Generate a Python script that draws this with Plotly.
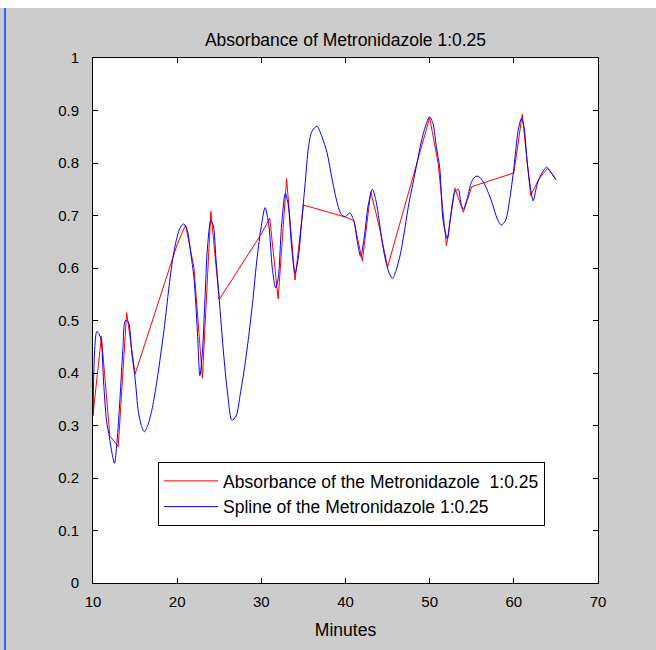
import plotly.graph_objects as go

# Measured absorbance (red, piecewise linear)
abs_minutes = [10, 11, 12, 13, 14, 15,
               20, 21, 22, 23, 24, 25,
               30, 31, 32, 33, 34, 35,
               40, 41, 42, 43, 44, 45,
               50, 51, 52, 53, 54, 55,
               60, 61, 62, 63, 64, 65]
abs_values = [0.320, 0.470, 0.280, 0.260, 0.515, 0.398,
              0.645, 0.682, 0.600, 0.390, 0.708, 0.540,
              0.665, 0.695, 0.541, 0.770, 0.577, 0.720,
              0.697, 0.690, 0.613, 0.745, 0.680, 0.602,
              0.886, 0.800, 0.642, 0.752, 0.706, 0.755,
              0.781, 0.893, 0.738, 0.770, 0.790, 0.770]

# Spline curve (blue)
spline_minutes = [10.0, 10.2, 10.45, 10.7, 10.97, 11.25, 11.6, 11.95, 12.25, 12.55,
                  12.85, 13.2, 13.55, 13.85, 14.2, 14.6, 15.0, 15.4, 15.75, 16.1,
                  16.5, 17.0, 17.5, 18.0, 18.5, 19.0, 19.5, 20.0, 20.4, 20.8,
                  21.2, 21.6, 22.0, 22.4, 22.7, 23.0, 23.3, 23.6, 24.0, 24.3,
                  24.6, 25.0, 25.5, 26.0, 26.5, 27.0, 27.5, 28.0, 28.5, 29.0,
                  29.5, 30.0, 30.45, 30.9, 31.3, 31.7, 32.0, 32.4, 32.85, 33.2,
                  33.6, 34.0, 34.4, 34.8, 35.2, 35.6, 36.0, 36.6, 37.2, 37.8,
                  38.4, 39.0, 39.5, 40.0, 40.5, 41.0, 41.4, 41.8, 42.2, 42.7,
                  43.2, 43.6, 44.0, 44.4, 44.8, 45.2, 45.6, 46.0, 46.5, 47.0,
                  47.5, 48.0, 48.5, 49.0, 49.5, 50.0, 50.4, 50.8, 51.2, 51.6,
                  52.1, 52.5, 53.0, 53.4, 53.7, 54.0, 54.5, 55.0, 55.5, 56.0,
                  56.5, 57.0, 57.5, 58.0, 58.5, 59.0, 59.5, 60.0, 60.5, 60.9,
                  61.2, 61.6, 62.0, 62.3, 62.7, 63.0, 63.5, 63.9, 64.3, 64.7, 65.0]
spline_values = [0.318, 0.445, 0.479, 0.475, 0.462, 0.385, 0.310, 0.278, 0.248, 0.228,
                 0.268, 0.350, 0.445, 0.500, 0.497, 0.440, 0.390, 0.325, 0.300, 0.288,
                 0.300, 0.330, 0.375, 0.430, 0.490, 0.560, 0.620, 0.660, 0.678, 0.684,
                 0.672, 0.630, 0.580, 0.480, 0.395, 0.440, 0.540, 0.640, 0.690, 0.680,
                 0.620, 0.540, 0.440, 0.360, 0.310, 0.318, 0.360, 0.410, 0.470, 0.540,
                 0.620, 0.680, 0.715, 0.680, 0.600, 0.562, 0.580, 0.680, 0.742, 0.720,
                 0.640, 0.590, 0.620, 0.690, 0.760, 0.830, 0.860, 0.870, 0.850, 0.820,
                 0.770, 0.725, 0.702, 0.698, 0.705, 0.690, 0.650, 0.622, 0.655, 0.720,
                 0.750, 0.730, 0.690, 0.645, 0.612, 0.590, 0.580, 0.595, 0.625, 0.670,
                 0.720, 0.760, 0.800, 0.840, 0.870, 0.888, 0.875, 0.830, 0.790, 0.690,
                 0.656, 0.700, 0.745, 0.750, 0.725, 0.712, 0.735, 0.765, 0.775, 0.772,
                 0.760, 0.742, 0.720, 0.695, 0.682, 0.690, 0.730, 0.790, 0.860, 0.885,
                 0.870, 0.800, 0.750, 0.728, 0.755, 0.770, 0.785, 0.792, 0.785, 0.775, 0.768]

x_ticks = [10, 20, 30, 40, 50, 60, 70]
y_ticks = [0, 0.1, 0.2, 0.3, 0.4, 0.5, 0.6, 0.7, 0.8, 0.9, 1]
y_tick_labels = ["0", "0.1", "0.2", "0.3", "0.4", "0.5", "0.6", "0.7", "0.8", "0.9", "1"]

FONT = "Liberation Sans, Arial, sans-serif"

fig = go.Figure()
fig.add_trace(go.Scatter(x=abs_minutes, y=abs_values, mode="lines",
                         name="Absorbance of the Metronidazole &nbsp;1:0.25",
                         line=dict(color="#ff0000", width=1)))
fig.add_trace(go.Scatter(x=spline_minutes, y=spline_values, mode="lines",
                         name="Spline of the Metronidazole 1:0.25",
                         line=dict(color="#0000ff", width=1, shape="spline", smoothing=0.8)))

axis_common = dict(showline=True, linecolor="black", linewidth=1, mirror="ticks",
                   ticks="inside", ticklen=5, tickcolor="black", showgrid=False,
                   zeroline=False, tickfont=dict(family=FONT, size=15, color="black"))

fig.update_layout(
    width=656, height=650,
    margin=dict(l=93, r=58, t=58, b=67),
    paper_bgcolor="#cccccc", plot_bgcolor="white",
    title=dict(text="Absorbance of Metronidazole 1:0.25", x=0.5267, xanchor="center",
               y=1 - 40 / 650, yanchor="middle",
               font=dict(family=FONT, size=17.5, color="black")),
    xaxis=dict(range=[10, 70], tickvals=x_ticks, ticklabelstandoff=5,
               title=dict(text="Minutes", font=dict(family=FONT, size=17.5, color="black"), standoff=14),
               **axis_common),
    yaxis=dict(range=[0, 1], tickvals=y_ticks, ticktext=y_tick_labels, ticklabelstandoff=10,
               **axis_common),
    legend=dict(x=0.1287, y=0.2305, xanchor="left", yanchor="top",
                bgcolor="white", bordercolor="black", borderwidth=1,
                font=dict(family=FONT, size=17.5, color="black"),
                tracegroupgap=0, itemwidth=54),
    showlegend=True,
    shapes=[
        dict(type="rect", xref="paper", yref="paper", x0=-0.2, x1=1.2,
             y0=(583 - 8) / 525, y1=(583 + 2) / 525 + 0.1, fillcolor="white", line=dict(width=0), layer="above"),
        dict(type="line", xref="paper", yref="paper", x0=(5 - 93) / 505, x1=(5 - 93) / 505,
             y0=(583 - 650) / 525, y1=(583 - 8) / 525, line=dict(color="#3060ff", width=2)),
    ],
)

fig.write_html("out.html")
